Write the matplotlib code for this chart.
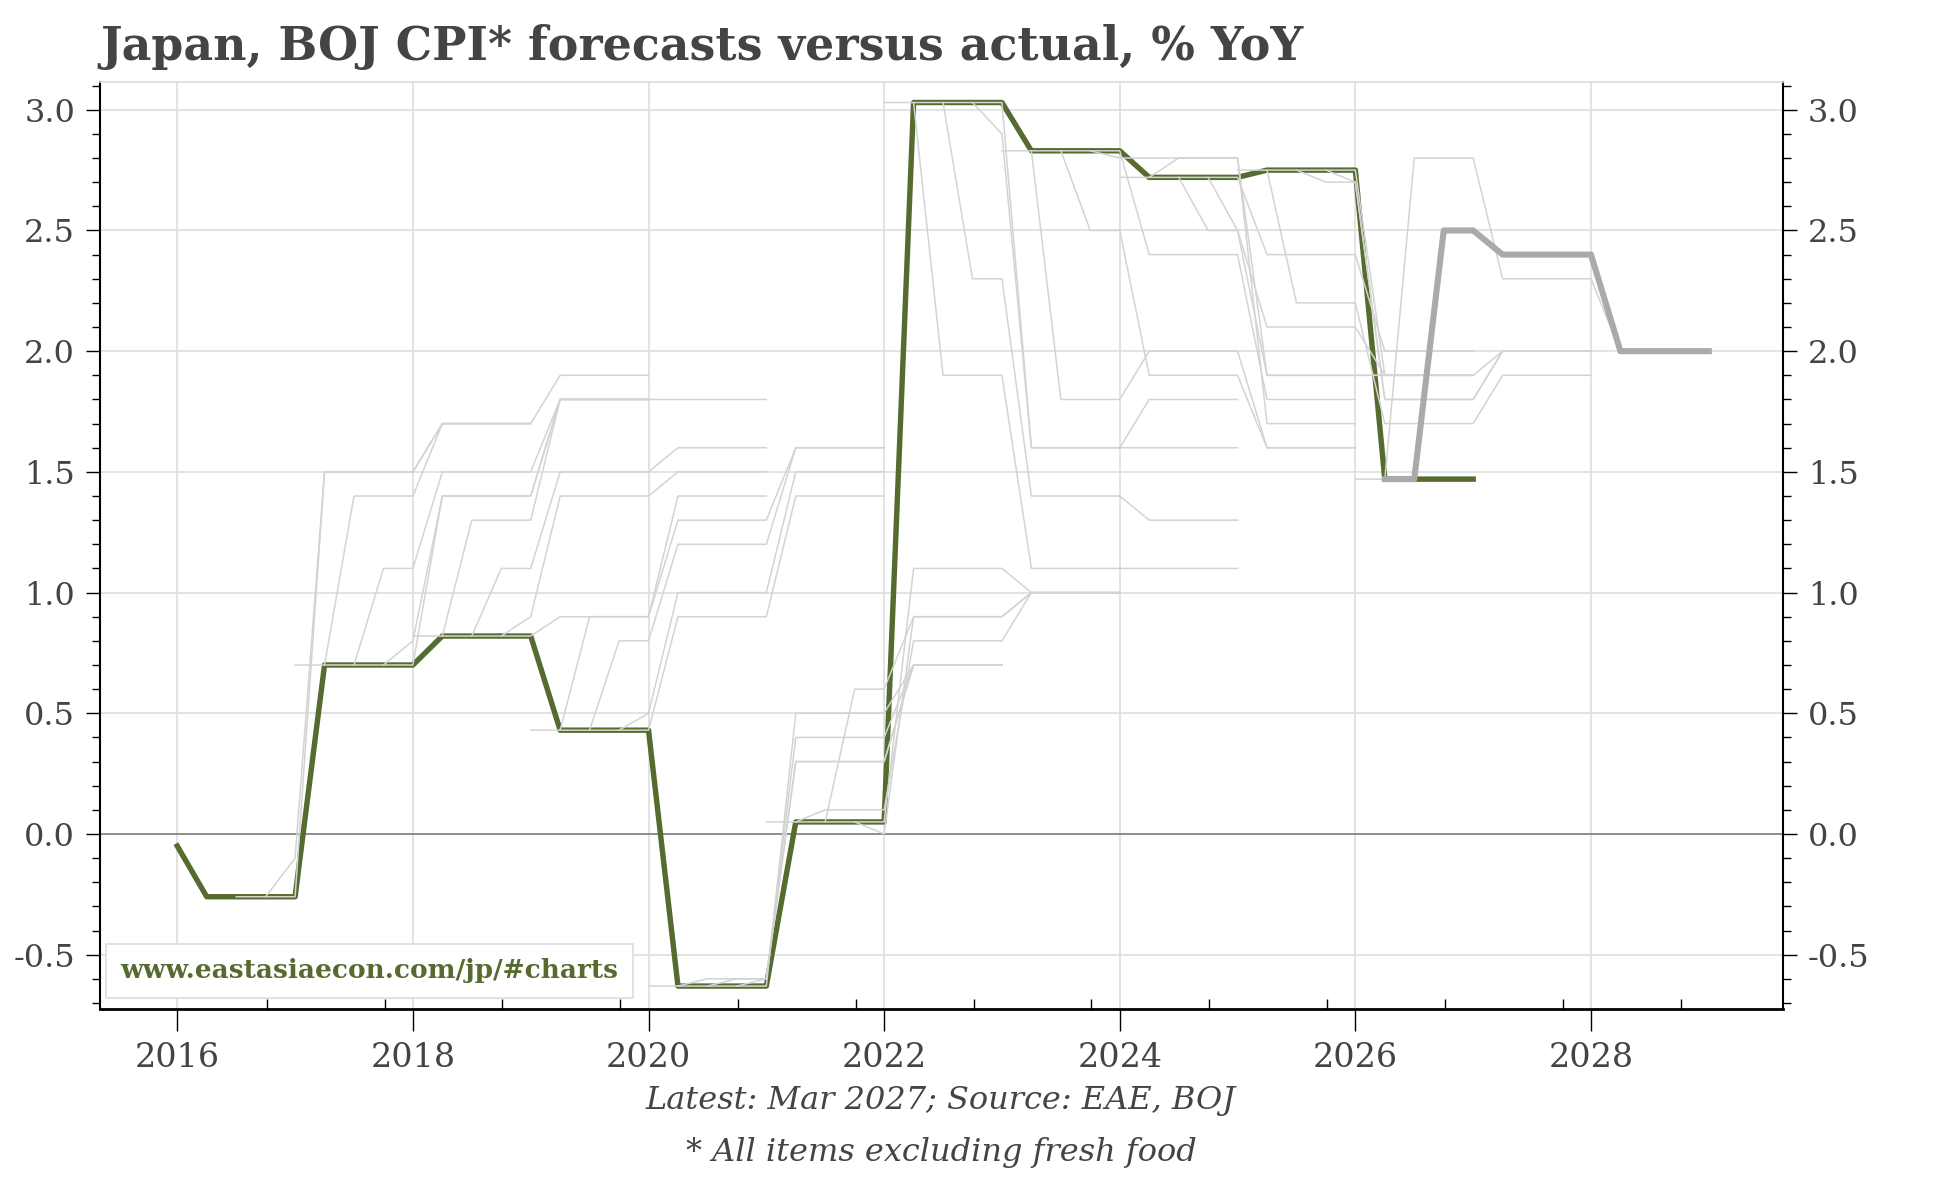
import numpy as np
import matplotlib.pyplot as plt

# Fiscal-year actuals (Apr-Mar), % YoY; FY2015 only used as the first point
actual_fy = [2015, 2016, 2017, 2018, 2019, 2020, 2021, 2022, 2023, 2024, 2025, 2026]
actual_val = [-0.05, -0.26, 0.70, 0.82, 0.43, -0.63, 0.05, 3.03, 2.83, 2.72, 2.75, 1.47]

# BOJ outlook vintages: fiscal year of release and quarter within it (0=Apr, 1=Jul, 2=Oct, 3=Jan)
vint_fy = [2016, 2016,
           2017, 2017, 2017, 2017,
           2018, 2018, 2018, 2018,
           2019, 2019, 2019, 2019,
           2020, 2020, 2020, 2020,
           2021, 2021, 2021, 2021,
           2022, 2022, 2022, 2022,
           2023, 2023, 2023, 2023,
           2024, 2024, 2024, 2024,
           2025, 2025, 2025, 2025,
           2026, 2026]
vint_q = [2, 3] + [0, 1, 2, 3] * 9 + [0, 1]
# forecasts for the current FY, next FY and the FY after (None = not shown)
fc_this = [-0.1, None,
           1.4, 1.1, 0.8, None,
           1.3, 1.1, 0.9, None,
           0.9, 0.8, 0.5, None,
           -0.6, -0.6, -0.6, None,
           0.1, 0.6, 0.0, None,
           1.9, 2.3, 2.9, None,
           1.8, 2.5, 2.8, None,
           2.8, 2.5, 2.5, None,
           2.2, 2.7, 2.7, None,
           2.8, 2.5]
fc_next = [1.5, 1.5,
           1.7, 1.5, 1.4, 1.4,
           1.8, 1.5, 1.4, 0.9,
           1.3, 1.2, 1.0, 0.9,
           0.3, 0.3, 0.4, 0.5,
           0.8, 0.9, 0.9, 1.1,
           1.1, 1.4, 1.6, 1.6,
           2.0, 1.9, 2.8, 2.4,
           1.9, 2.1, 1.9, 2.4,
           1.7, 1.8, 1.8, 1.9,
           2.3, 2.4]
fc_after = [1.7, 1.7,
            1.9, 1.8, 1.8, 1.8,
            1.8, 1.6, 1.5, 1.4,
            1.6, 1.6, 1.5, 1.4,
            0.7, 0.7, 0.7, 0.7,
            1.0, 1.0, 1.0, 1.0,
            1.1, 1.3, 1.6, 1.8,
            1.6, 1.6, 1.7, 1.8,
            1.9, 1.9, 1.9, 2.0,
            1.9, 2.0, 2.0, 2.0,
            2.0, 2.0]

GREEN = "#556b2f"
TXT = "#444444"
SERIF = "DejaVu Serif"

act = dict(zip(actual_fy, actual_val))


def fy_of(q):
    # quarter dated Apr..Jan of the next year belongs to that FY
    return int(np.floor(q - 0.25 + 1e-9))


# actual line: FY2015 point, then each FY over its four quarters
ax_x = [2016.0]
ax_y = [act[2015]]
for f in actual_fy[1:]:
    for i in range(1, 5):
        ax_x.append(f + 0.25 * i)
        ax_y.append(act[f])


def vintage_line(f, k, fcs):
    x_first = f + 0.5 + 0.25 * k
    xs = [x_first - 0.5, x_first - 0.25]
    ys = [act[f], act[f]]
    q = x_first
    while q <= f + 3.0 + 1e-9:
        v = fcs[fy_of(q) - f]
        if v is not None:
            xs.append(q)
            ys.append(v)
        q += 0.25
    return xs, ys


fig = plt.figure(figsize=(19.44, 11.78), dpi=100)
ax = fig.add_axes([100 / 1944, 1 - 1009 / 1178, 1683 / 1944, 927 / 1178])

ax.plot(ax_x, ax_y, color=GREEN, lw=3.9, zorder=3)

n = len(vint_fy)
for i in range(n):
    xs, ys = vintage_line(vint_fy[i], vint_q[i], [fc_this[i], fc_next[i], fc_after[i]])
    if i == n - 1:
        ax.plot(xs, ys, color="#aaaaaa", lw=4.4, zorder=5)
    else:
        ax.plot(xs, ys, color="#d3d3d3", lw=1.1, zorder=4)

ax.axhline(0, color="#808080", lw=1.2, zorder=2)

ax.set_xlim(2015.344, 2029.63)
ax.set_ylim(-0.725, 3.115)

ax.set_xticks(range(2016, 2029, 2))
ax.set_xticks([y + 0.76 for y in range(2016, 2029)], minor=True)
ax.set_yticks(np.arange(-0.5, 3.01, 0.5))
ax.set_yticks(np.arange(-0.7, 3.11, 0.1), minor=True)
ax.set_yticklabels([f"{v:.1f}" for v in np.arange(-0.5, 3.01, 0.5)])

ax.grid(True, which="major", color="#e0e0e0", lw=1.3, zorder=0)
ax.set_axisbelow(True)

ax.tick_params(axis="x", which="major", direction="out", length=16, width=1.0,
               labelsize=24, labelcolor=TXT, pad=8)
ax.tick_params(axis="x", which="minor", direction="in", length=7, width=1.0)
ax.tick_params(axis="y", which="both", direction="out", left=True, right=True,
               labelleft=True, labelright=True, width=1.0)
ax.tick_params(axis="y", which="major", length=10, labelsize=23, labelcolor=TXT, pad=8)
ax.tick_params(axis="y", which="minor", length=6)
for lab in ax.get_xticklabels() + ax.get_yticklabels():
    lab.set_family(SERIF)

ax.spines["bottom"].set_linewidth(2.0)
ax.spines["left"].set_linewidth(1.5)
ax.spines["right"].set_linewidth(1.5)
ax.spines["top"].set_color("#dddddd")
ax.spines["top"].set_linewidth(1.2)

ax.text(0.012, 0.041, "www.eastasiaecon.com/jp/#charts", transform=ax.transAxes,
        family=SERIF, weight="bold", color=GREEN, fontsize=19, va="center", ha="left",
        zorder=6, bbox=dict(boxstyle="square,pad=0.55", fc="white", ec="#dddddd", lw=1.2))

fig.text(100 / 1944, 1 - 47 / 1178, "Japan, BOJ CPI* forecasts versus actual, % YoY",
         family=SERIF, weight="bold", color=TXT, fontsize=33, ha="left", va="center")
fig.text(941 / 1944, 1 - 1101 / 1178, "Latest: Mar 2027; Source: EAE, BOJ",
         family=SERIF, style="italic", color=TXT, fontsize=23, ha="center", va="center")
fig.text(941 / 1944, 1 - 1153 / 1178, "* All items excluding fresh food",
         family=SERIF, style="italic", color=TXT, fontsize=23, ha="center", va="center")

fig.savefig("out.png", dpi=100)
